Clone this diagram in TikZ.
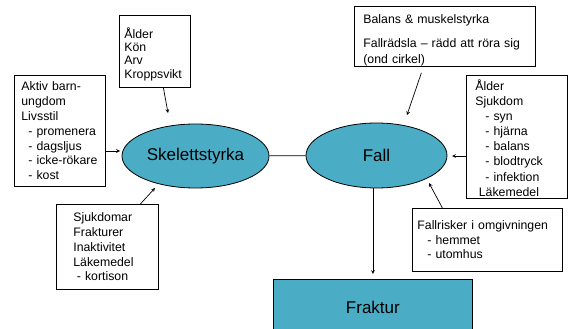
\documentclass[tikz,border=0pt]{standalone}
\usepackage{fontspec}
\setmainfont{Liberation Sans}
\usepackage{tikz}
\usetikzlibrary{shapes,arrows,positioning}
\definecolor{blaagron}{RGB}{75,172,198}
\tikzstyle{pil} = [line width=0.7pt, ->, >=stealth]
\tikzstyle{ruta} = [draw, line width=0.8pt, anchor=north west, align=left, inner ysep=0pt]
\tikzstyle{boll} = [ellipse, draw, fill=blaagron, line width=0.8pt, inner sep=0pt, font=\fontsize{17}{20}\selectfont]

\begin{document}
\begin{tikzpicture}[x=1pt,y=-1pt]
\useasboundingbox (0,0) rectangle (568,329);
%\draw[help lines] (0,0) grid (568,329);

% ellipser och fraktur
\node[boll, minimum width=147pt, minimum height=64pt] (skel) at (195.5,156) {Skelettstyrka};
\node[boll, minimum width=141pt, minimum height=65pt] (fall) at (376.5,155.5) {Fall};
\node[draw, fill=blaagron, line width=0.8pt, anchor=north west, minimum width=199pt, minimum height=56pt,
      font=\fontsize{17}{20}\selectfont] (fraktur) at (273,279) {Fraktur};

% rutor
\node[ruta, inner xsep=5pt, text width=61pt, minimum width=71pt, minimum height=72pt,
      font=\fontsize{12.3}{13.3}\selectfont] (arv) at (119,15)
      {\rule{0pt}{16pt}Ålder\\Kön\\Arv\\Kroppsvikt};
\node[ruta, inner xsep=7pt, text width=77pt, minimum width=91pt, minimum height=111pt,
      font=\fontsize{12.3}{14.8}\selectfont] (livs) at (14,75)
      {Aktiv barn-\\ungdom\\Livsstil\\\hspace*{7pt}-~promenera\\\hspace*{7pt}-~dagsljus\\\hspace*{7pt}-~icke-rökare\\\hspace*{7pt}-~kost};
\node[ruta, inner xsep=17pt, text width=68pt, minimum width=102pt, minimum height=85pt,
      font=\fontsize{12.3}{14.8}\selectfont] (sjuk) at (56,204)
      {Sjukdomar\\Frakturer\\Inaktivitet\\Läkemedel\\\hspace*{3.5pt}-~kortison};
\node[ruta, inner xsep=9pt, text width=163pt, minimum width=181pt, minimum height=60pt,
      font=\fontsize{12.3}{16.5}\selectfont] (balans) at (354,6)
      {\rule{0pt}{17pt}Balans \& muskelstyrka\\[7pt]Fallrädsla – rädd att röra sig\\(ond cirkel)};
\node[ruta, inner xsep=9pt, text width=83pt, minimum width=101pt, minimum height=123pt,
      font=\fontsize{12.3}{15.1}\selectfont] (alder) at (466,75)
      {\rule{0pt}{13pt}Ålder\\Sjukdom\\\hspace*{10pt}-~syn\\\hspace*{10pt}-~hjärna\\\hspace*{10pt}-~balans\\\hspace*{10pt}-~blodtryck\\\hspace*{10pt}-~infektion\\\hspace*{3.5pt}Läkemedel};
\node[ruta, inner xsep=5pt, text width=140pt, minimum width=150pt, minimum height=63pt,
      font=\fontsize{12.3}{14.5}\selectfont] (risk) at (412,208)
      {Fallrisker i omgivningen\\\hspace*{10pt}-~hemmet\\\hspace*{10pt}-~utomhus};

% pilspetsar
\coordinate (p1) at (168,113);
\coordinate (p2) at (120,151);
\coordinate (p3) at (155,188);
\coordinate (p4) at (407,115);
\coordinate (p5) at (452,156);
\coordinate (p6) at (429,183);

\draw[pil] ([xshift=8.5pt]arv.south) -- (p1);
\draw[pil] (livs.east |- p2) -- (p2);
\draw[pil] ([xshift=33pt]sjuk.north) -- (p3);
\draw[line width=0.8pt] (skel) -- (fall);
\draw[pil] ([xshift=-23.5pt,yshift=-6pt]balans.south) -- (p4);
\draw[pil] (alder.west |- p5) -- (p5);
\draw[pil] ([xshift=-45pt]risk.north) -- (p6);
\draw[pil] (fall.south -| fraktur.north) -- ([yshift=5pt]fraktur.north);
\end{tikzpicture}
\end{document}
